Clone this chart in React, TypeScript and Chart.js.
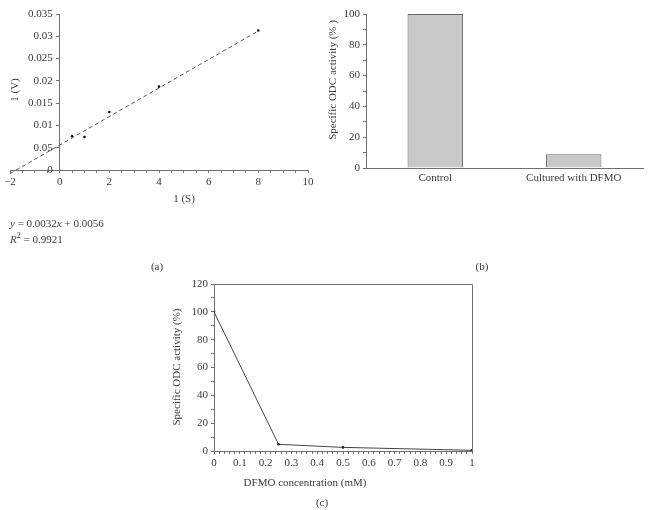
import React, { useEffect, useRef } from 'react';
import { Chart, registerables } from 'chart.js';

Chart.register(...registerables);

// ---------- Panel (a) data ----------
const aXTicks = [-2, 0, 2, 4, 6, 8, 10];
const aXTickLabels = ['−2', '0', '2', '4', '6', '8', '10'];
const aYTicks = [0, 0.005, 0.01, 0.015, 0.02, 0.025, 0.03, 0.035];
const aYTickLabels = ['0', '0.05', '0.01', '0.015', '0.02', '0.025', '0.03', '0.035'];
const aPointsX = [0.5, 1, 2, 4, 8];
const aPointsY = [0.0076, 0.0074, 0.013, 0.0187, 0.0313];
const aTrendX = [-2, 8];
const aTrendY = [-0.0008, 0.0312];

// ---------- Panel (b) data ----------
const bCategories = ['Control', 'Cultured with DFMO'];
const bValues = [100, 9];
const bYTicks = [0, 20, 40, 60, 80, 100];
const bYTickLabels = ['0', '20', '40', '60', '80', '100'];

// ---------- Panel (c) data ----------
const cX = [0, 0.25, 0.5, 1];
const cY = [100, 4.8, 2.6, 0.5];
const cXTicks = [0, 0.1, 0.2, 0.3, 0.4, 0.5, 0.6, 0.7, 0.8, 0.9, 1];
const cXTickLabels = ['0', '0.1', '0.2', '0.3', '0.4', '0.5', '0.6', '0.7', '0.8', '0.9', '1'];
const cYTicks = [0, 20, 40, 60, 80, 100, 120];
const cYTickLabels = ['0', '20', '40', '60', '80', '100', '120'];

// layout: x position (in data units) where panel (a)'s y tick labels are right-aligned
const aYLabelAnchor = -0.28;

const FONT = "'Liberation Serif', 'Times New Roman', serif";
const TEXT = '#3a3a3a';
const AXIS = '#707070';

type Run = { t: string; italic?: boolean; sup?: boolean };
type TextItem = { runs: Run[]; x: number; y: number; rot?: boolean; align?: 'left' | 'center' };

const labelFor = (ticks: number[], labels: string[]) => (v: number | string) => {
  const n = Number(v);
  const i = ticks.findIndex((t) => Math.abs(t - n) < 1e-9);
  return i >= 0 ? labels[i] : '';
};

const runFont = (r: Run) => `${r.italic ? 'italic ' : ''}${r.sup ? 8 : 11}px ${FONT}`;

const textPlugin = (id: string, items: TextItem[]) => ({
  id,
  afterDraw(chart: any) {
    const ctx: CanvasRenderingContext2D = chart.ctx;
    ctx.save();
    ctx.fillStyle = TEXT;
    ctx.textBaseline = 'middle';
    ctx.textAlign = 'left';
    for (const it of items) {
      let w = 0;
      for (const r of it.runs) {
        ctx.font = runFont(r);
        w += ctx.measureText(r.t).width;
      }
      ctx.save();
      ctx.translate(it.x, it.y);
      if (it.rot) ctx.rotate(-Math.PI / 2);
      let x = it.align === 'left' ? 0 : -w / 2;
      for (const r of it.runs) {
        ctx.font = runFont(r);
        ctx.fillText(r.t, x, r.sup ? -4 : 0);
        x += ctx.measureText(r.t).width;
      }
      ctx.restore();
    }
    ctx.restore();
  },
});

const boxPlugin = {
  id: 'boxTopRight',
  afterDraw(chart: any) {
    const { ctx, chartArea } = chart;
    const { left, right, top, bottom } = chartArea;
    ctx.save();
    ctx.strokeStyle = AXIS;
    ctx.lineWidth = 1;
    ctx.beginPath();
    ctx.moveTo(Math.round(left), Math.round(top) + 0.5);
    ctx.lineTo(Math.round(right) + 0.5, Math.round(top) + 0.5);
    ctx.lineTo(Math.round(right) + 0.5, Math.round(bottom));
    ctx.stroke();
    ctx.restore();
  },
};

const gridOpts = (tl: number, drawTicks = true) => ({
  drawOnChartArea: false,
  drawTicks,
  tickLength: tl,
  tickColor: AXIS,
  color: AXIS,
});
const borderOpts = { display: true, color: AXIS, width: 1 };
const tickFont = { family: FONT, size: 11 };

const baseOpts = {
  animation: false as const,
  responsive: false,
  events: [] as any[],
};

export default function App() {
  const refA = useRef<HTMLCanvasElement>(null);
  const refB = useRef<HTMLCanvasElement>(null);
  const refC = useRef<HTMLCanvasElement>(null);

  useEffect(() => {
    Chart.defaults.font.family = FONT;
    Chart.defaults.font.size = 11;
    Chart.defaults.color = TEXT;

    const chartA = new Chart(refA.current as HTMLCanvasElement, {
      type: 'scatter',
      data: {
        datasets: [
          {
            data: aTrendX.map((x, i) => ({ x, y: aTrendY[i] })),
            showLine: true,
            borderColor: '#555',
            borderWidth: 1,
            borderDash: [4, 3],
            pointRadius: 0,
            clip: false as any,
          },
          {
            data: aPointsX.map((x, i) => ({ x, y: aPointsY[i] })),
            showLine: false,
            pointRadius: 1.3,
            pointBackgroundColor: '#111',
            pointBorderColor: '#111',
            pointBorderWidth: 0,
          },
        ],
      },
      options: {
        ...baseOpts,
        layout: { padding: { left: 10, top: 14, right: 340, bottom: 320 } },
        plugins: { legend: { display: false }, tooltip: { enabled: false } },
        scales: {
          x: {
            type: 'linear',
            position: 'bottom',
            min: -2,
            max: 10,
            ticks: { stepSize: 0.5, autoSkip: false, maxRotation: 0, padding: 3, font: tickFont, color: TEXT, callback: labelFor(aXTicks, aXTickLabels) },
            grid: gridOpts(3),
            border: borderOpts,
            afterFit: (s: any) => { s.height = 20; },
          },
          y: {
            type: 'linear',
            position: { x: 0 } as any,
            min: 0,
            max: 0.035,
            ticks: { stepSize: 0.005, autoSkip: false, padding: 3, font: tickFont, color: TEXT, callback: () => '' },
            grid: gridOpts(3),
            border: borderOpts,
          },
          yLabels: {
            type: 'linear',
            axis: 'y',
            position: { x: aYLabelAnchor } as any,
            min: 0,
            max: 0.035,
            ticks: { stepSize: 0.005, autoSkip: false, padding: 0, font: tickFont, color: TEXT, callback: labelFor(aYTicks, aYTickLabels) },
            grid: { display: false, drawTicks: false, drawOnChartArea: false },
            border: { display: false },
          },
        },
      },
      plugins: [
        textPlugin('textsA', [
          { runs: [{ t: '1 (V)' }], x: 15, y: 90, rot: true },
          { runs: [{ t: '1 (S)' }], x: 184, y: 199 },
          { runs: [{ t: 'y', italic: true }, { t: ' = 0.0032' }, { t: 'x', italic: true }, { t: ' + 0.0056' }], x: 10, y: 224, align: 'left' },
          { runs: [{ t: 'R', italic: true }, { t: '2', sup: true }, { t: ' = 0.9921' }], x: 10, y: 240, align: 'left' },
          { runs: [{ t: '(a)' }], x: 157, y: 267 },
        ]),
      ],
    } as any);

    const chartB = new Chart(refB.current as HTMLCanvasElement, {
      type: 'bar',
      data: {
        labels: bCategories,
        datasets: [
          {
            data: bValues,
            backgroundColor: '#c8c8c8',
            borderColor: '#666',
            borderWidth: 1,
            categoryPercentage: 1,
            barPercentage: 0.4,
          },
        ],
      },
      options: {
        ...baseOpts,
        layout: { padding: { left: 326, top: 14, right: 5, bottom: 322 } },
        plugins: { legend: { display: false }, tooltip: { enabled: false } },
        scales: {
          x: {
            type: 'category',
            ticks: { autoSkip: false, maxRotation: 0, padding: 4, font: tickFont, color: TEXT },
            grid: gridOpts(0, false),
            border: borderOpts,
            afterFit: (s: any) => { s.height = 20; },
          },
          y: {
            type: 'linear',
            position: 'left',
            min: 0,
            max: 100,
            ticks: { stepSize: 10, autoSkip: false, padding: 3, font: tickFont, color: TEXT, callback: labelFor(bYTicks, bYTickLabels) },
            grid: gridOpts(3),
            border: borderOpts,
            afterFit: (s: any) => { s.width = 40; },
          },
        },
      },
      plugins: [
        textPlugin('textsB', [
          { runs: [{ t: 'Specific ODC activity (% )' }], x: 333, y: 80, rot: true },
          { runs: [{ t: '(b)' }], x: 482, y: 267 },
        ]),
      ],
    } as any);

    const chartC = new Chart(refC.current as HTMLCanvasElement, {
      type: 'scatter',
      data: {
        datasets: [
          {
            data: cX.map((x, i) => ({ x, y: cY[i] })),
            showLine: true,
            borderColor: '#444',
            borderWidth: 1,
            pointRadius: 1.3,
            pointBackgroundColor: '#222',
            pointBorderColor: '#222',
            pointBorderWidth: 0,
            tension: 0,
          },
        ],
      },
      options: {
        ...baseOpts,
        layout: { padding: { left: 174, top: 284, right: 176, bottom: 39 } },
        plugins: { legend: { display: false }, tooltip: { enabled: false } },
        scales: {
          x: {
            type: 'linear',
            position: 'bottom',
            min: 0,
            max: 1,
            ticks: { stepSize: 0.02, autoSkip: false, maxRotation: 0, padding: 3, font: tickFont, color: TEXT, callback: labelFor(cXTicks, cXTickLabels) },
            grid: gridOpts(3),
            border: borderOpts,
            afterFit: (s: any) => { s.height = 20; },
          },
          y: {
            type: 'linear',
            position: 'left',
            min: 0,
            max: 120,
            ticks: { stepSize: 10, autoSkip: false, padding: 3, font: tickFont, color: TEXT, callback: labelFor(cYTicks, cYTickLabels) },
            grid: gridOpts(3),
            border: borderOpts,
            afterFit: (s: any) => { s.width = 40; },
          },
        },
      },
      plugins: [
        boxPlugin,
        textPlugin('textsC', [
          { runs: [{ t: 'Specific ODC activity (%)' }], x: 177, y: 367, rot: true },
          { runs: [{ t: 'DFMO concentration (mM)' }], x: 305, y: 483 },
          { runs: [{ t: '(c)' }], x: 322, y: 503 },
        ]),
      ],
    } as any);

    return () => {
      chartA.destroy();
      chartB.destroy();
      chartC.destroy();
    };
  }, []);

  const cs: React.CSSProperties = { position: 'absolute', left: 0, top: 0 };
  return (
    <div style={{ position: 'absolute', left: 0, top: 0, width: 648, height: 510, background: '#fff' }}>
      <canvas ref={refA} width={648} height={510} style={cs} />
      <canvas ref={refB} width={648} height={510} style={cs} />
      <canvas ref={refC} width={648} height={510} style={cs} />
    </div>
  );
}
